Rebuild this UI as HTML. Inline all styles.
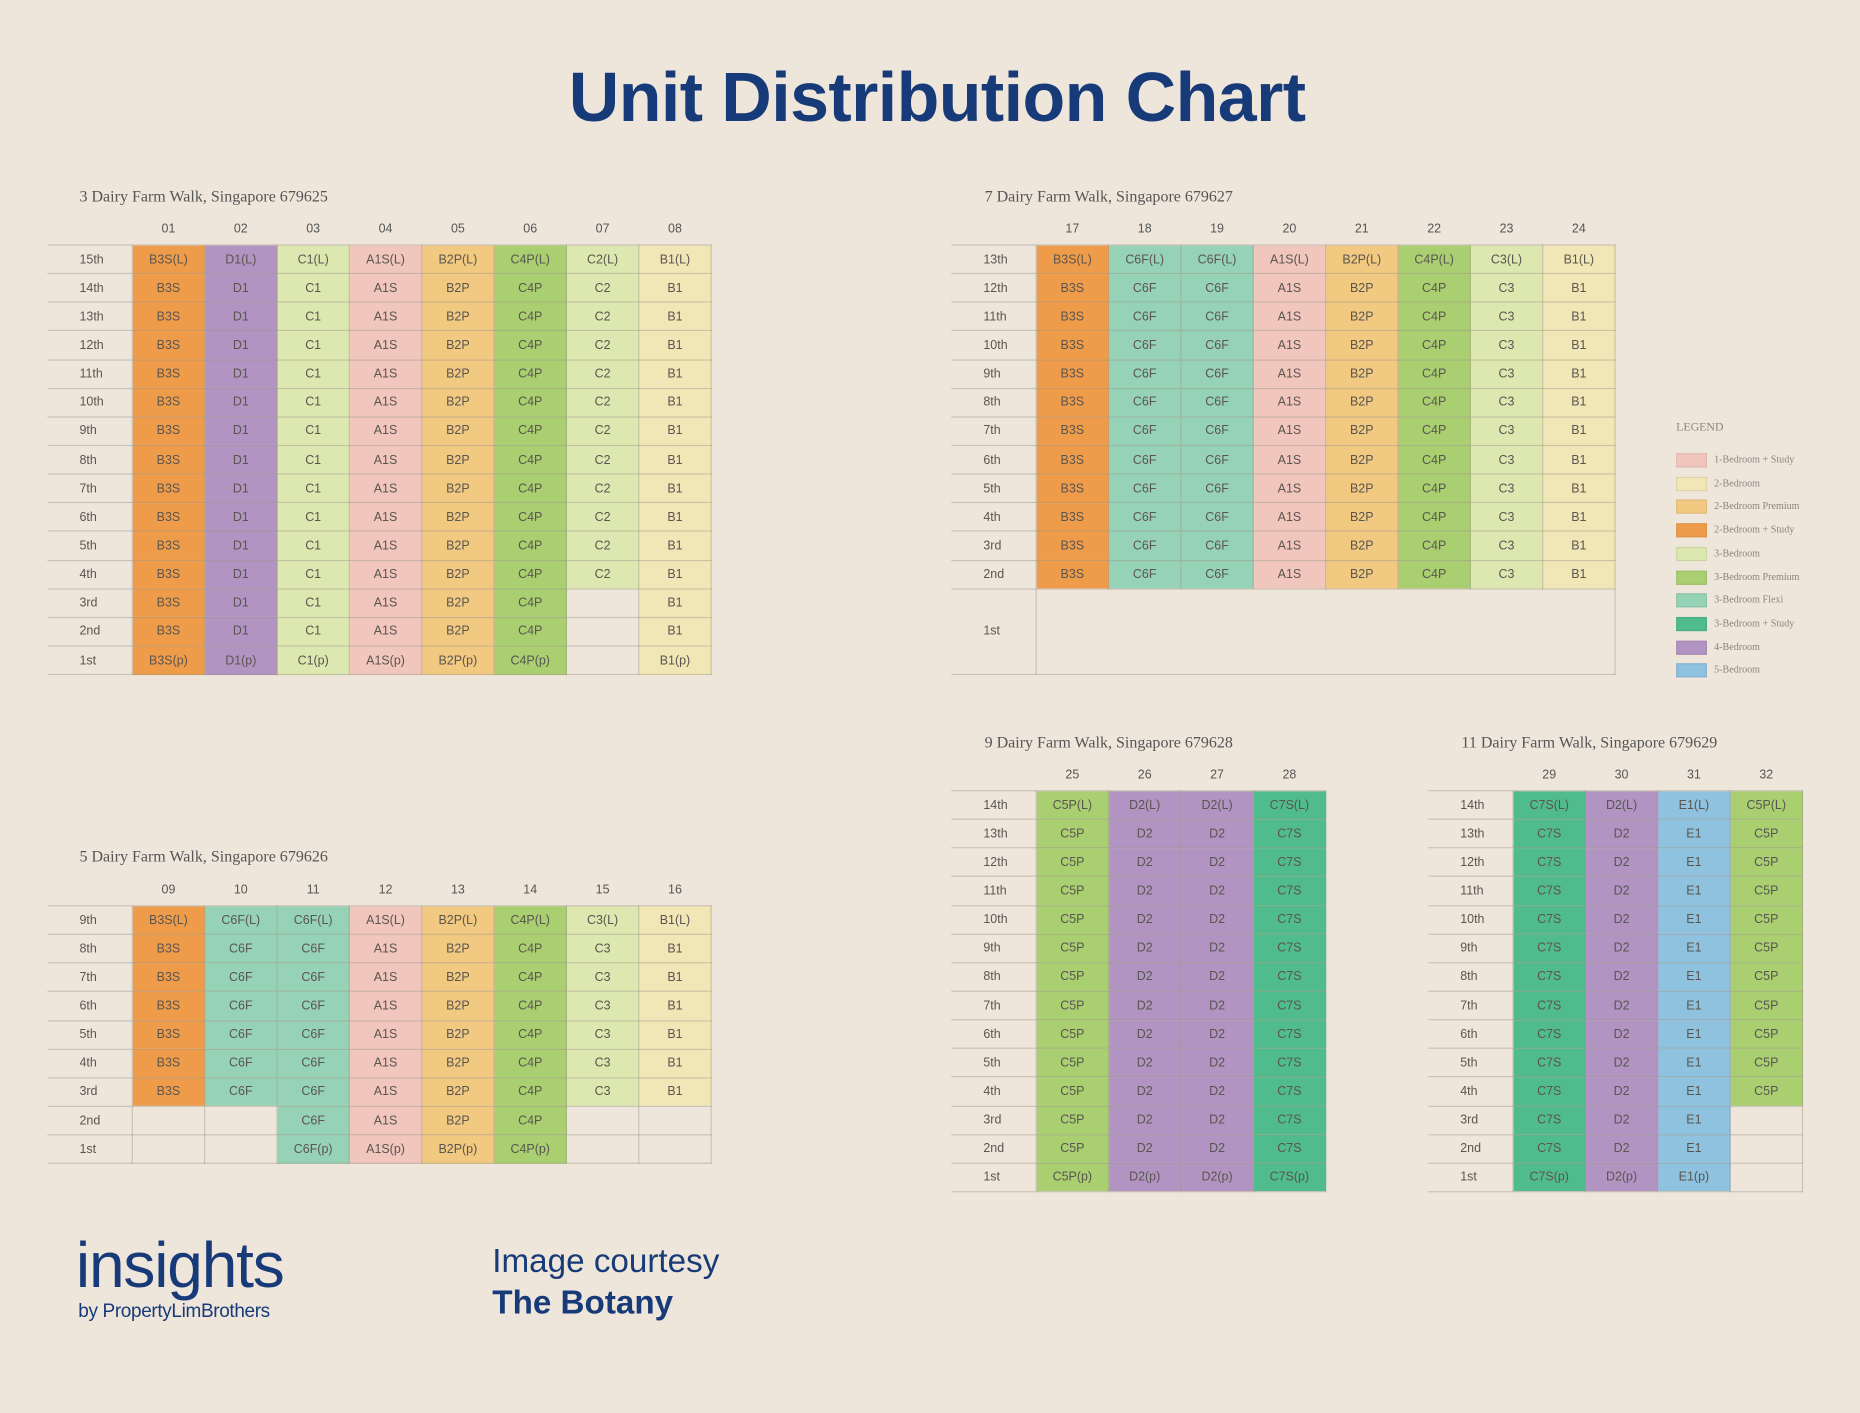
<!DOCTYPE html>
<html><head><meta charset="utf-8">
<style>
html,body{margin:0;padding:0;background:#efe6db;}
body{width:1860px;height:1413px;overflow:hidden;position:relative;}
#c{position:absolute;left:0;top:0;width:1568px;height:1191px;transform:scale(1.18622,1.1864);transform-origin:0 0;font-family:"Liberation Sans",sans-serif;}
.t{position:absolute;font-family:"Liberation Serif",serif;font-size:13.5px;color:#555;}
table{position:absolute;border-collapse:collapse;table-layout:fixed;}
td{height:23.15px;padding:0;border:1px solid rgba(160,150,138,.45);text-align:center;font-size:10.5px;color:#5a5550;width:60px;white-space:nowrap;}
td.l{width:44px;text-align:left;padding-left:27px;border-left:none;}
tr.h td{border:none;height:27px;font-size:10.5px;color:#555;}
.o{background:#ef9c4a}.p{background:#b294c2}.c{background:#dde8b0}.a{background:#f1c6bd}
.b{background:#f2c980}.g{background:#a9cf71}.y{background:#f1e7b6}.f{background:#96d2b6}
.s{background:#50bb8c}.e{background:#8fc2df}.n{background:transparent}
.lg{position:absolute;left:1413px;font-size:8.5px;color:#8a8580;font-family:"Liberation Serif",serif;}
.lg i{display:inline-block;width:24px;height:10px;vertical-align:middle;margin-right:6px;border:1px solid rgba(0,0,0,.08);}
</style></head><body><div id="c">
<div style="position:absolute;left:0;width:1580px;top:48px;text-align:center;font-size:59px;font-weight:bold;color:#173a78;letter-spacing:-0.5px;">Unit Distribution Chart</div>

<div class="t" style="left:67px;top:158px;">3 Dairy Farm Walk, Singapore 679625</div>
<table style="left:40px;top:179px;">
<tr class="h"><td class="l"></td><td>01</td><td>02</td><td>03</td><td>04</td><td>05</td><td>06</td><td>07</td><td>08</td></tr>
<tr><td class="l">15th</td><td class="o">B3S(L)</td><td class="p">D1(L)</td><td class="c">C1(L)</td><td class="a">A1S(L)</td><td class="b">B2P(L)</td><td class="g">C4P(L)</td><td class="c">C2(L)</td><td class="y">B1(L)</td></tr>
<tr><td class="l">14th</td><td class="o">B3S</td><td class="p">D1</td><td class="c">C1</td><td class="a">A1S</td><td class="b">B2P</td><td class="g">C4P</td><td class="c">C2</td><td class="y">B1</td></tr>
<tr><td class="l">13th</td><td class="o">B3S</td><td class="p">D1</td><td class="c">C1</td><td class="a">A1S</td><td class="b">B2P</td><td class="g">C4P</td><td class="c">C2</td><td class="y">B1</td></tr>
<tr><td class="l">12th</td><td class="o">B3S</td><td class="p">D1</td><td class="c">C1</td><td class="a">A1S</td><td class="b">B2P</td><td class="g">C4P</td><td class="c">C2</td><td class="y">B1</td></tr>
<tr><td class="l">11th</td><td class="o">B3S</td><td class="p">D1</td><td class="c">C1</td><td class="a">A1S</td><td class="b">B2P</td><td class="g">C4P</td><td class="c">C2</td><td class="y">B1</td></tr>
<tr><td class="l">10th</td><td class="o">B3S</td><td class="p">D1</td><td class="c">C1</td><td class="a">A1S</td><td class="b">B2P</td><td class="g">C4P</td><td class="c">C2</td><td class="y">B1</td></tr>
<tr><td class="l">9th</td><td class="o">B3S</td><td class="p">D1</td><td class="c">C1</td><td class="a">A1S</td><td class="b">B2P</td><td class="g">C4P</td><td class="c">C2</td><td class="y">B1</td></tr>
<tr><td class="l">8th</td><td class="o">B3S</td><td class="p">D1</td><td class="c">C1</td><td class="a">A1S</td><td class="b">B2P</td><td class="g">C4P</td><td class="c">C2</td><td class="y">B1</td></tr>
<tr><td class="l">7th</td><td class="o">B3S</td><td class="p">D1</td><td class="c">C1</td><td class="a">A1S</td><td class="b">B2P</td><td class="g">C4P</td><td class="c">C2</td><td class="y">B1</td></tr>
<tr><td class="l">6th</td><td class="o">B3S</td><td class="p">D1</td><td class="c">C1</td><td class="a">A1S</td><td class="b">B2P</td><td class="g">C4P</td><td class="c">C2</td><td class="y">B1</td></tr>
<tr><td class="l">5th</td><td class="o">B3S</td><td class="p">D1</td><td class="c">C1</td><td class="a">A1S</td><td class="b">B2P</td><td class="g">C4P</td><td class="c">C2</td><td class="y">B1</td></tr>
<tr><td class="l">4th</td><td class="o">B3S</td><td class="p">D1</td><td class="c">C1</td><td class="a">A1S</td><td class="b">B2P</td><td class="g">C4P</td><td class="c">C2</td><td class="y">B1</td></tr>
<tr><td class="l">3rd</td><td class="o">B3S</td><td class="p">D1</td><td class="c">C1</td><td class="a">A1S</td><td class="b">B2P</td><td class="g">C4P</td><td class="n"></td><td class="y">B1</td></tr>
<tr><td class="l">2nd</td><td class="o">B3S</td><td class="p">D1</td><td class="c">C1</td><td class="a">A1S</td><td class="b">B2P</td><td class="g">C4P</td><td class="n"></td><td class="y">B1</td></tr>
<tr><td class="l">1st</td><td class="o">B3S(p)</td><td class="p">D1(p)</td><td class="c">C1(p)</td><td class="a">A1S(p)</td><td class="b">B2P(p)</td><td class="g">C4P(p)</td><td class="n"></td><td class="y">B1(p)</td></tr>
</table>

<div class="t" style="left:67px;top:714px;">5 Dairy Farm Walk, Singapore 679626</div>
<table style="left:40px;top:736px;">
<tr class="h"><td class="l"></td><td>09</td><td>10</td><td>11</td><td>12</td><td>13</td><td>14</td><td>15</td><td>16</td></tr>
<tr><td class="l">9th</td><td class="o">B3S(L)</td><td class="f">C6F(L)</td><td class="f">C6F(L)</td><td class="a">A1S(L)</td><td class="b">B2P(L)</td><td class="g">C4P(L)</td><td class="c">C3(L)</td><td class="y">B1(L)</td></tr>
<tr><td class="l">8th</td><td class="o">B3S</td><td class="f">C6F</td><td class="f">C6F</td><td class="a">A1S</td><td class="b">B2P</td><td class="g">C4P</td><td class="c">C3</td><td class="y">B1</td></tr>
<tr><td class="l">7th</td><td class="o">B3S</td><td class="f">C6F</td><td class="f">C6F</td><td class="a">A1S</td><td class="b">B2P</td><td class="g">C4P</td><td class="c">C3</td><td class="y">B1</td></tr>
<tr><td class="l">6th</td><td class="o">B3S</td><td class="f">C6F</td><td class="f">C6F</td><td class="a">A1S</td><td class="b">B2P</td><td class="g">C4P</td><td class="c">C3</td><td class="y">B1</td></tr>
<tr><td class="l">5th</td><td class="o">B3S</td><td class="f">C6F</td><td class="f">C6F</td><td class="a">A1S</td><td class="b">B2P</td><td class="g">C4P</td><td class="c">C3</td><td class="y">B1</td></tr>
<tr><td class="l">4th</td><td class="o">B3S</td><td class="f">C6F</td><td class="f">C6F</td><td class="a">A1S</td><td class="b">B2P</td><td class="g">C4P</td><td class="c">C3</td><td class="y">B1</td></tr>
<tr><td class="l">3rd</td><td class="o">B3S</td><td class="f">C6F</td><td class="f">C6F</td><td class="a">A1S</td><td class="b">B2P</td><td class="g">C4P</td><td class="c">C3</td><td class="y">B1</td></tr>
<tr><td class="l">2nd</td><td class="n"></td><td class="n"></td><td class="f">C6F</td><td class="a">A1S</td><td class="b">B2P</td><td class="g">C4P</td><td class="n"></td><td class="n"></td></tr>
<tr><td class="l">1st</td><td class="n"></td><td class="n"></td><td class="f">C6F(p)</td><td class="a">A1S(p)</td><td class="b">B2P(p)</td><td class="g">C4P(p)</td><td class="n"></td><td class="n"></td></tr>
</table>

<div class="t" style="left:830px;top:158px;">7 Dairy Farm Walk, Singapore 679627</div>
<table style="left:802px;top:179px;">
<tr class="h"><td class="l"></td><td>17</td><td>18</td><td>19</td><td>20</td><td>21</td><td>22</td><td>23</td><td>24</td></tr>
<tr><td class="l">13th</td><td class="o">B3S(L)</td><td class="f">C6F(L)</td><td class="f">C6F(L)</td><td class="a">A1S(L)</td><td class="b">B2P(L)</td><td class="g">C4P(L)</td><td class="c">C3(L)</td><td class="y">B1(L)</td></tr>
<tr><td class="l">12th</td><td class="o">B3S</td><td class="f">C6F</td><td class="f">C6F</td><td class="a">A1S</td><td class="b">B2P</td><td class="g">C4P</td><td class="c">C3</td><td class="y">B1</td></tr>
<tr><td class="l">11th</td><td class="o">B3S</td><td class="f">C6F</td><td class="f">C6F</td><td class="a">A1S</td><td class="b">B2P</td><td class="g">C4P</td><td class="c">C3</td><td class="y">B1</td></tr>
<tr><td class="l">10th</td><td class="o">B3S</td><td class="f">C6F</td><td class="f">C6F</td><td class="a">A1S</td><td class="b">B2P</td><td class="g">C4P</td><td class="c">C3</td><td class="y">B1</td></tr>
<tr><td class="l">9th</td><td class="o">B3S</td><td class="f">C6F</td><td class="f">C6F</td><td class="a">A1S</td><td class="b">B2P</td><td class="g">C4P</td><td class="c">C3</td><td class="y">B1</td></tr>
<tr><td class="l">8th</td><td class="o">B3S</td><td class="f">C6F</td><td class="f">C6F</td><td class="a">A1S</td><td class="b">B2P</td><td class="g">C4P</td><td class="c">C3</td><td class="y">B1</td></tr>
<tr><td class="l">7th</td><td class="o">B3S</td><td class="f">C6F</td><td class="f">C6F</td><td class="a">A1S</td><td class="b">B2P</td><td class="g">C4P</td><td class="c">C3</td><td class="y">B1</td></tr>
<tr><td class="l">6th</td><td class="o">B3S</td><td class="f">C6F</td><td class="f">C6F</td><td class="a">A1S</td><td class="b">B2P</td><td class="g">C4P</td><td class="c">C3</td><td class="y">B1</td></tr>
<tr><td class="l">5th</td><td class="o">B3S</td><td class="f">C6F</td><td class="f">C6F</td><td class="a">A1S</td><td class="b">B2P</td><td class="g">C4P</td><td class="c">C3</td><td class="y">B1</td></tr>
<tr><td class="l">4th</td><td class="o">B3S</td><td class="f">C6F</td><td class="f">C6F</td><td class="a">A1S</td><td class="b">B2P</td><td class="g">C4P</td><td class="c">C3</td><td class="y">B1</td></tr>
<tr><td class="l">3rd</td><td class="o">B3S</td><td class="f">C6F</td><td class="f">C6F</td><td class="a">A1S</td><td class="b">B2P</td><td class="g">C4P</td><td class="c">C3</td><td class="y">B1</td></tr>
<tr><td class="l">2nd</td><td class="o">B3S</td><td class="f">C6F</td><td class="f">C6F</td><td class="a">A1S</td><td class="b">B2P</td><td class="g">C4P</td><td class="c">C3</td><td class="y">B1</td></tr>
<tr><td class="l" style="height:71px">1st</td><td class="n" colspan="8"></td></tr>
</table>

<div class="lg" style="top:355px;font-size:10px;">LEGEND</div>
<div class="lg" style="top:382px;"><i class="a"></i>1-Bedroom + Study</div>
<div class="lg" style="top:402px;"><i class="y"></i>2-Bedroom</div>
<div class="lg" style="top:421px;"><i class="b"></i>2-Bedroom Premium</div>
<div class="lg" style="top:441px;"><i class="o"></i>2-Bedroom + Study</div>
<div class="lg" style="top:461px;"><i class="c"></i>3-Bedroom</div>
<div class="lg" style="top:481px;"><i class="g"></i>3-Bedroom Premium</div>
<div class="lg" style="top:500px;"><i class="f"></i>3-Bedroom Flexi</div>
<div class="lg" style="top:520px;"><i class="s"></i>3-Bedroom + Study</div>
<div class="lg" style="top:540px;"><i class="p"></i>4-Bedroom</div>
<div class="lg" style="top:559px;"><i class="e"></i>5-Bedroom</div>

<div class="t" style="left:830px;top:618px;">9 Dairy Farm Walk, Singapore 679628</div>
<table style="left:802px;top:639px;">
<tr class="h"><td class="l"></td><td>25</td><td>26</td><td>27</td><td>28</td></tr>
<tr><td class="l">14th</td><td class="g">C5P(L)</td><td class="p">D2(L)</td><td class="p">D2(L)</td><td class="s">C7S(L)</td></tr>
<tr><td class="l">13th</td><td class="g">C5P</td><td class="p">D2</td><td class="p">D2</td><td class="s">C7S</td></tr>
<tr><td class="l">12th</td><td class="g">C5P</td><td class="p">D2</td><td class="p">D2</td><td class="s">C7S</td></tr>
<tr><td class="l">11th</td><td class="g">C5P</td><td class="p">D2</td><td class="p">D2</td><td class="s">C7S</td></tr>
<tr><td class="l">10th</td><td class="g">C5P</td><td class="p">D2</td><td class="p">D2</td><td class="s">C7S</td></tr>
<tr><td class="l">9th</td><td class="g">C5P</td><td class="p">D2</td><td class="p">D2</td><td class="s">C7S</td></tr>
<tr><td class="l">8th</td><td class="g">C5P</td><td class="p">D2</td><td class="p">D2</td><td class="s">C7S</td></tr>
<tr><td class="l">7th</td><td class="g">C5P</td><td class="p">D2</td><td class="p">D2</td><td class="s">C7S</td></tr>
<tr><td class="l">6th</td><td class="g">C5P</td><td class="p">D2</td><td class="p">D2</td><td class="s">C7S</td></tr>
<tr><td class="l">5th</td><td class="g">C5P</td><td class="p">D2</td><td class="p">D2</td><td class="s">C7S</td></tr>
<tr><td class="l">4th</td><td class="g">C5P</td><td class="p">D2</td><td class="p">D2</td><td class="s">C7S</td></tr>
<tr><td class="l">3rd</td><td class="g">C5P</td><td class="p">D2</td><td class="p">D2</td><td class="s">C7S</td></tr>
<tr><td class="l">2nd</td><td class="g">C5P</td><td class="p">D2</td><td class="p">D2</td><td class="s">C7S</td></tr>
<tr><td class="l">1st</td><td class="g">C5P(p)</td><td class="p">D2(p)</td><td class="p">D2(p)</td><td class="s">C7S(p)</td></tr>
</table>

<div class="t" style="left:1232px;top:618px;">11 Dairy Farm Walk, Singapore 679629</div>
<table style="left:1204px;top:639px;">
<tr class="h"><td class="l"></td><td>29</td><td>30</td><td>31</td><td>32</td></tr>
<tr><td class="l">14th</td><td class="s">C7S(L)</td><td class="p">D2(L)</td><td class="e">E1(L)</td><td class="g">C5P(L)</td></tr>
<tr><td class="l">13th</td><td class="s">C7S</td><td class="p">D2</td><td class="e">E1</td><td class="g">C5P</td></tr>
<tr><td class="l">12th</td><td class="s">C7S</td><td class="p">D2</td><td class="e">E1</td><td class="g">C5P</td></tr>
<tr><td class="l">11th</td><td class="s">C7S</td><td class="p">D2</td><td class="e">E1</td><td class="g">C5P</td></tr>
<tr><td class="l">10th</td><td class="s">C7S</td><td class="p">D2</td><td class="e">E1</td><td class="g">C5P</td></tr>
<tr><td class="l">9th</td><td class="s">C7S</td><td class="p">D2</td><td class="e">E1</td><td class="g">C5P</td></tr>
<tr><td class="l">8th</td><td class="s">C7S</td><td class="p">D2</td><td class="e">E1</td><td class="g">C5P</td></tr>
<tr><td class="l">7th</td><td class="s">C7S</td><td class="p">D2</td><td class="e">E1</td><td class="g">C5P</td></tr>
<tr><td class="l">6th</td><td class="s">C7S</td><td class="p">D2</td><td class="e">E1</td><td class="g">C5P</td></tr>
<tr><td class="l">5th</td><td class="s">C7S</td><td class="p">D2</td><td class="e">E1</td><td class="g">C5P</td></tr>
<tr><td class="l">4th</td><td class="s">C7S</td><td class="p">D2</td><td class="e">E1</td><td class="g">C5P</td></tr>
<tr><td class="l">3rd</td><td class="s">C7S</td><td class="p">D2</td><td class="e">E1</td><td class="n"></td></tr>
<tr><td class="l">2nd</td><td class="s">C7S</td><td class="p">D2</td><td class="e">E1</td><td class="n"></td></tr>
<tr><td class="l">1st</td><td class="s">C7S(p)</td><td class="p">D2(p)</td><td class="e">E1(p)</td><td class="n"></td></tr>
</table>

<div style="position:absolute;left:64px;top:1036px;font-size:54px;color:#173a78;letter-spacing:-1px;">insights</div>
<div style="position:absolute;left:66px;top:1097px;font-size:16px;color:#173a78;letter-spacing:-0.3px;">by PropertyLimBrothers</div>
<div style="position:absolute;left:415px;top:1047px;font-size:28px;color:#173a78;">Image courtesy</div>
<div style="position:absolute;left:415px;top:1082px;font-size:28px;font-weight:bold;color:#173a78;">The Botany</div>
</div></body></html>
